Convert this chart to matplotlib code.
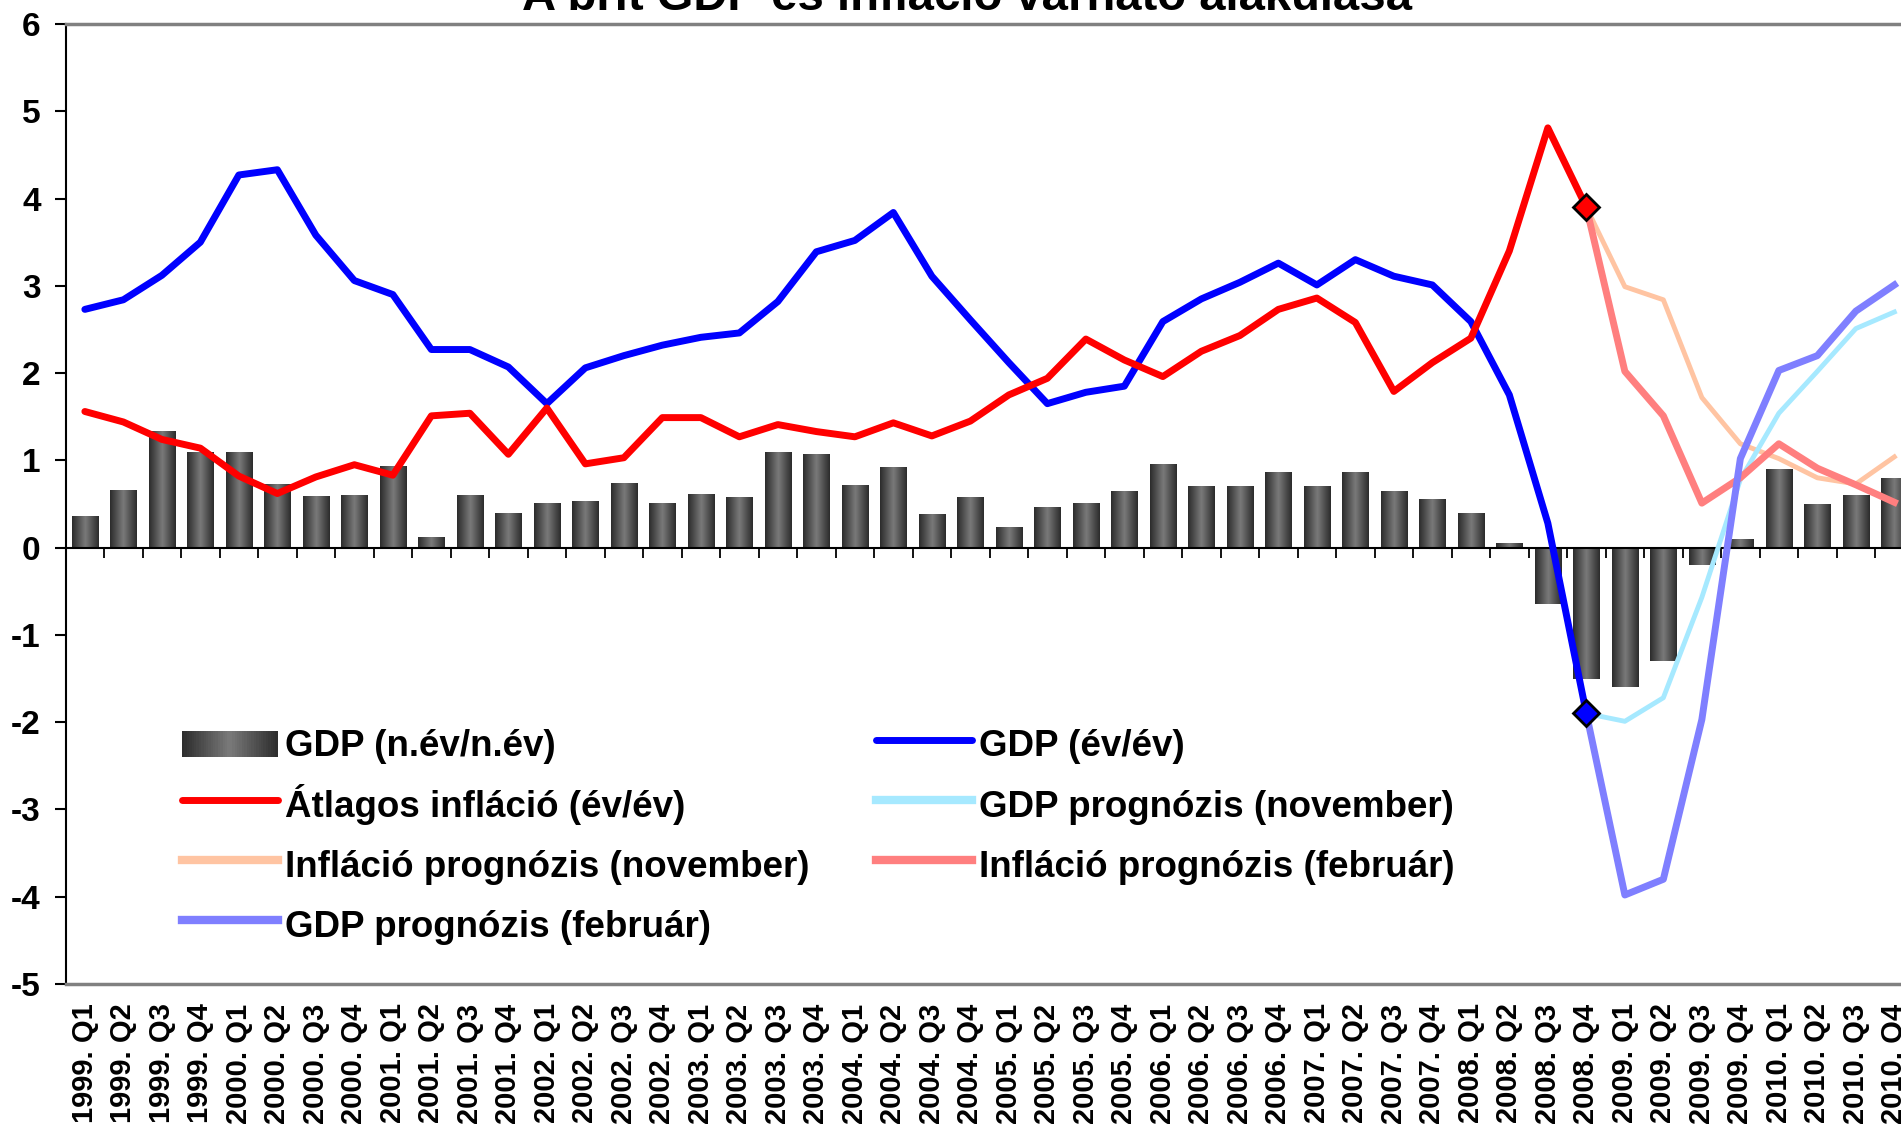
import numpy as np
import matplotlib
matplotlib.use("Agg")
import matplotlib.pyplot as plt
from matplotlib.colors import LinearSegmentedColormap
from matplotlib.legend_handler import HandlerBase
from matplotlib.lines import Line2D
from matplotlib.patches import Patch, Rectangle

plt.rcParams['font.family'] = ['Liberation Sans', 'DejaVu Sans']
plt.rcParams['font.weight'] = 'bold'
plt.rcParams['axes.unicode_minus'] = False

# ============================ données =======================================
years = list(range(1999, 2011))
labels = [f"{y}. Q{q}" for y in years for q in range(1, 5)]

# GDP negyedév/negyedév (oszlopok), 1999 Q1 - 2010 Q4
gdp_qq = [0.36, 0.66, 1.33, 1.10, 1.10, 0.73, 0.59, 0.60, 0.93, 0.12, 0.60, 0.39,
          0.51, 0.53, 0.74, 0.51, 0.61, 0.58, 1.10, 1.07, 0.72, 0.92, 0.38, 0.58,
          0.23, 0.46, 0.51, 0.65, 0.96, 0.70, 0.71, 0.87, 0.71, 0.86, 0.65, 0.56,
          0.39, 0.05, -0.65, -1.50, -1.60, -1.30, -0.20, 0.10, 0.90, 0.50, 0.60, 0.80]

# tény adatok 1999 Q1 - 2008 Q4
gdp_yy = [2.73, 2.84, 3.12, 3.50, 4.27, 4.33, 3.58, 3.06, 2.90, 2.27, 2.27, 2.07,
          1.65, 2.06, 2.20, 2.32, 2.41, 2.46, 2.82, 3.39, 3.52, 3.84, 3.11, 2.61,
          2.12, 1.65, 1.78, 1.85, 2.59, 2.85, 3.04, 3.26, 3.01, 3.30, 3.11, 3.01,
          2.59, 1.75, 0.28, -1.90]
inflacio = [1.56, 1.44, 1.24, 1.14, 0.82, 0.62, 0.81, 0.95, 0.83, 1.51, 1.54, 1.07,
            1.60, 0.96, 1.03, 1.49, 1.49, 1.27, 1.41, 1.33, 1.27, 1.43, 1.28, 1.45,
            1.75, 1.94, 2.39, 2.15, 1.96, 2.25, 2.43, 2.73, 2.86, 2.58, 1.79, 2.12,
            2.40, 3.40, 4.81, 3.90]

# prognózisok 2008 Q4 - 2010 Q4
gdp_nov = [-1.90, -1.99, -1.72, -0.57, 0.78, 1.54, 2.02, 2.51, 2.70]
gdp_feb = [-1.90, -3.98, -3.80, -1.97, 1.02, 2.03, 2.20, 2.71, 3.01]
infl_nov = [3.90, 2.99, 2.84, 1.72, 1.19, 1.02, 0.80, 0.73, 1.04]
infl_feb = [3.90, 2.02, 1.51, 0.51, 0.80, 1.19, 0.91, 0.72, 0.52]

# ============================ figure ========================================
W, H = 1901, 1130
fig = plt.figure(figsize=(W / 100, H / 100), dpi=100)
x_left, x_right = 65.6, 1913.6   # axe débordant à droite (image recadrée)
y_top, y_bot = 24, 984
ax = fig.add_axes([x_left / W, 1 - y_bot / H, (x_right - x_left) / W, (y_bot - y_top) / H])

n = len(labels)
x = np.arange(n)
x_act = x[:len(gdp_yy)]
x_fc = x[len(gdp_yy) - 1:len(gdp_yy) - 1 + len(gdp_nov)]

# oszlopok dégradé
bar_cmap = LinearSegmentedColormap.from_list('bar', ['#2c2c2c', '#7a7a7a', '#2c2c2c'])
grad = np.linspace(0, 1, 64)[None, :]
bw = 0.69
for xi, v in zip(x, gdp_qq):
    ax.imshow(grad, extent=(xi - bw / 2, xi + bw / 2, min(0, v), max(0, v)),
              aspect='auto', cmap=bar_cmap, interpolation='bilinear', zorder=2)

# zero line with category ticks
ax.axhline(0, color='black', lw=1.5, zorder=3)
zero_pos = 5 / 11
ax.vlines(x[:-1] + 0.5, zero_pos - 0.0105, zero_pos, color='black', lw=1.3,
          transform=ax.get_xaxis_transform(), zorder=3)

ax.plot(x_fc, infl_nov, color='#FFC4A2', lw=3.5, zorder=4)
ax.plot(x_fc, gdp_nov, color='#A6E9FF', lw=3.5, zorder=4)
ax.plot(x_fc, infl_feb, color='#FF7F7F', lw=5, zorder=5)
ax.plot(x_fc, gdp_feb, color='#7F7FFF', lw=5, zorder=5)
ax.plot(x_act, gdp_yy, color='#0000FF', lw=5, solid_joinstyle='round',
        solid_capstyle='round', zorder=6)
ax.plot(x_act, inflacio, color='#FF0000', lw=5, solid_joinstyle='round',
        solid_capstyle='round', zorder=6)
ax.plot(x_act[-1], gdp_yy[-1], 'D', ms=13, mfc='#0000FF', mec='black', mew=2, zorder=7)
ax.plot(x_act[-1], inflacio[-1], 'D', ms=13, mfc='#FF0000', mec='black', mew=2, zorder=7)

ax.set_xlim(-0.5, n - 0.5)
ax.set_ylim(-5, 6)
ax.set_yticks(range(-5, 7))
ax.tick_params(axis='y', labelsize=24, length=8, width=1.5, pad=10)
ax.set_xticks(x)
ax.set_xticklabels(labels, rotation=90, fontsize=21, fontweight='bold')
ax.tick_params(axis='x', length=0, pad=14)
for t in ax.get_yticklabels():
    t.set_fontweight('bold')

ax.spines['left'].set_linewidth(1.5)
ax.spines['right'].set_visible(False)
for s in ('top', 'bottom'):
    ax.spines[s].set_color('#808080')
    ax.spines[s].set_linewidth(2.5)

fig.text(967 / W, 1 - 10 / H, 'A brit GDP és infláció várható alakulása',
         ha='center', va='baseline', fontsize=34, fontweight='bold')


# legenda
class GradientHandler(HandlerBase):
    def create_artists(self, legend, orig_handle, xdescent, ydescent, width,
                       height, fontsize, trans):
        k = 40
        h0 = 0.7 * fontsize
        y0 = height / 2 - ydescent - h0 / 2
        out = []
        for j in range(k):
            out.append(Rectangle((-xdescent + j * width / k, y0),
                                 width / k * 1.05, h0,
                                 facecolor=bar_cmap((j + 0.5) / k),
                                 edgecolor='none', transform=trans))
        return out


h_bar = Patch(facecolor='#555555')
handles = [
    h_bar,
    Line2D([], [], color='#FF0000', lw=5, solid_capstyle='round'),
    Line2D([], [], color='#FFC4A2', lw=6),
    Line2D([], [], color='#7F7FFF', lw=6),
    Line2D([], [], color='#0000FF', lw=5, solid_capstyle='round'),
    Line2D([], [], color='#A6E9FF', lw=6),
    Line2D([], [], color='#FF7F7F', lw=6),
]
names = ['GDP (n.év/n.év)', 'Átlagos infláció (év/év)', 'Infláció prognózis (november)',
         'GDP prognózis (február)', 'GDP (év/év)', 'GDP prognózis (november)',
         'Infláció prognózis (február)']
fig.legend(handles, names, ncol=2, loc='upper left',
           bbox_to_anchor=(182 / W, 1 - 723 / H), bbox_transform=fig.transFigure,
           frameon=False, borderpad=0, borderaxespad=0,
           handlelength=2.6, handleheight=1.4, handletextpad=0.2, columnspacing=1.8,
           labelspacing=0.48, handler_map={h_bar: GradientHandler()},
           prop={'weight': 'bold', 'size': 26.5})

fig.savefig('out.png', dpi=100)
